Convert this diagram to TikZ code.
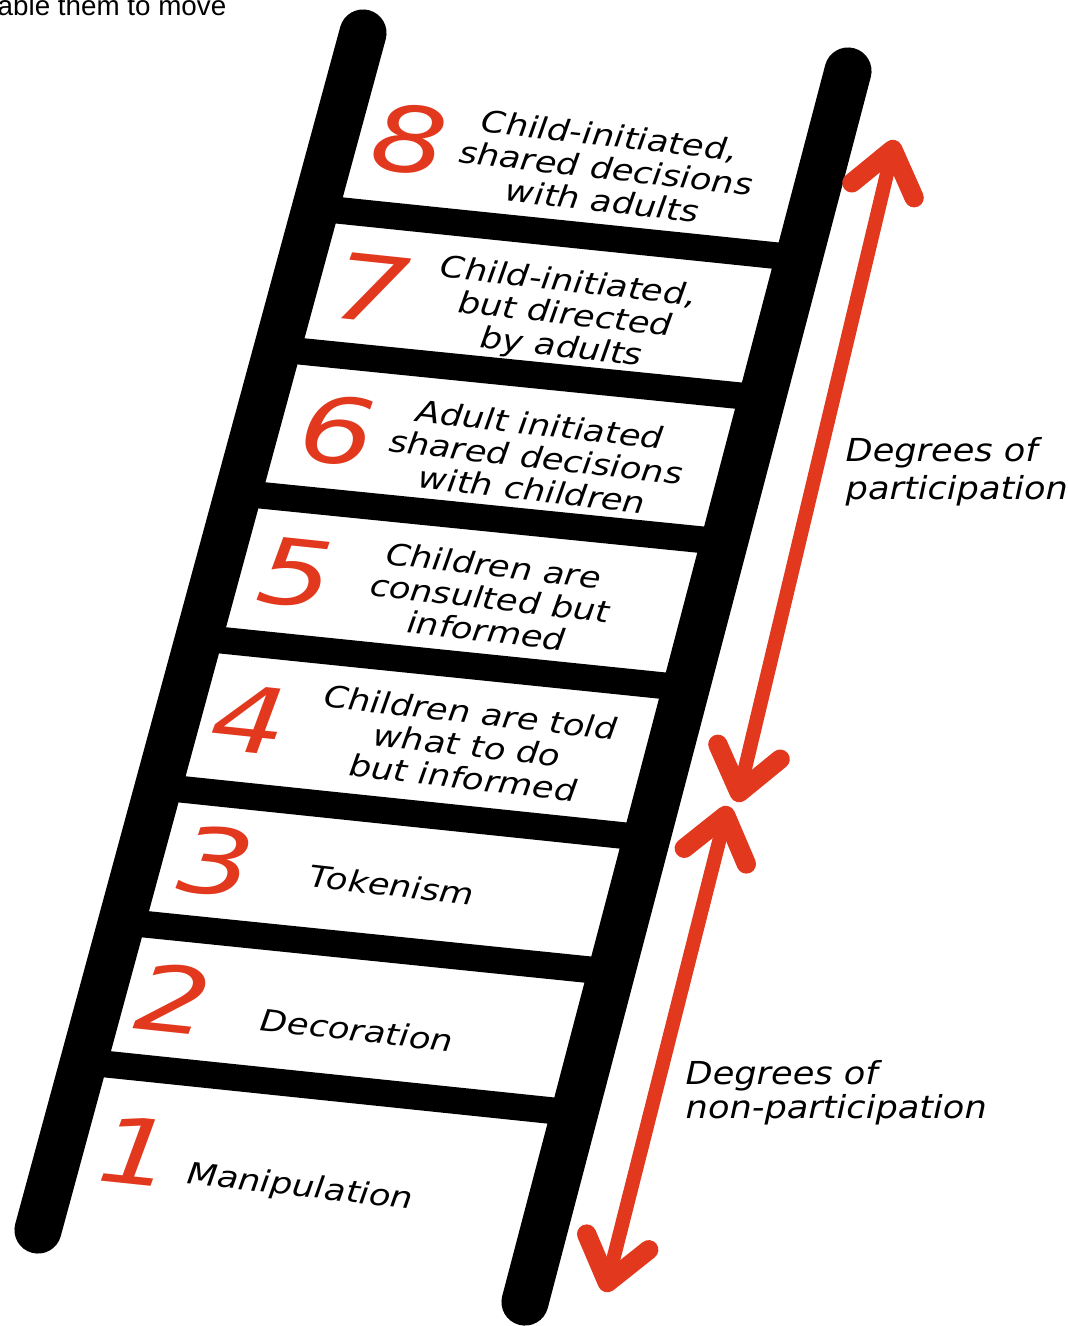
\documentclass[tikz,border=0pt]{standalone}
\usepackage{fontspec}
\setmainfont{DejaVu Sans}
\newfontfamily\arialfont{Liberation Sans}
\usetikzlibrary{arrows.meta}
\definecolor{ladderred}{RGB}{226,56,30}
\tikzset{
  rail/.style={line width=13.4pt, line cap=round, black},
  rung/.style={line width=7.6pt, black},
  digit/.style={font=\itshape\fontsize{26}{26}\selectfont, text=ladderred, inner sep=0pt, rotate=-6, xscale=1.3},
  label/.style={font=\itshape\fontsize{10}{11}\selectfont, align=center, inner sep=0pt, rotate=-6.5, yscale=0.85},
  side/.style={font=\itshape\fontsize{10}{10}\selectfont, align=left, inner sep=0pt, anchor=west, yscale=0.9},
  redarrow/.style={ladderred, line width=4pt, line cap=round,
    {Straight Barb[length=4.2mm, width=6.4mm, line width=5.5pt 0, round]}-{Straight Barb[length=4.2mm, width=6.4mm, line width=5.5pt 0, round]}}
}
\begin{document}
\begin{tikzpicture}[x=0.01cm, y=-0.01cm]
\useasboundingbox (0,0) rectangle (1068,1326);
% rails
\coordinate (LT) at (363,33);
\coordinate (LB) at (38,1230);
\coordinate (RT) at (848,71);
\coordinate (RB) at (525,1302);
\draw[rail] (LT) -- (LB);
\draw[rail] (RT) -- (RB);
% rungs
\draw[rung] (315.8,208) -- (798.9,258);
\draw[rung] (277.8,349) -- (762.2,398);
\draw[rung] (238.8,493) -- (724.4,542);
\draw[rung] (200,638) -- (686.1,688);
\draw[rung] (159.8,787) -- (646.7,838);
\draw[rung] (123.4,922) -- (611.6,972);
\draw[rung] (85.7,1062) -- (574.6,1113);
% digits
\node[digit] (d8) at (410,139) {8};
\node[digit] (d7) at (372,288) {7};
\node[digit] (d6) at (338,430) {6};
\node[digit] (d5) at (296,573) {5};
\node[digit] (d4) at (250,719) {4};
\node[digit] (d3) at (217,861) {3};
\node[digit] (d2) at (174,999) {2};
\node[digit] (d1) at (137,1151) {1};
% labels
\node[label] (l8) at (606,168) {Child-initiated,\\shared decisions\\with adults};
\node[label] (l7) at (565,316) {Child-initiated,\\but directed\\by adults};
\node[label] (l6) at (536,457) {Adult initiated\\shared decisions\\with children};
\node[label] (l5) at (490,598) {Children are\\consulted but\\informed};
\node[label] (l4) at (467,745) {Children are told\\what to do\\but informed};
\node[label] (l3) at (392,885) {Tokenism};
\node[label] (l2) at (357,1030) {Decoration};
\node[label] (l1) at (300,1188) {Manipulation};
% side labels
\node[side, font=\itshape\fontsize{10}{12}\selectfont] (p) at (845,472) {Degrees of\\participation};
\node[side, font=\itshape\fontsize{10}{9.5}\selectfont] (np) at (685,1093) {Degrees of\\non-participation};
% arrows
\coordinate (a1t) at (895,140);
\coordinate (a1b) at (737,802);
\coordinate (a2t) at (728,806);
\coordinate (a2b) at (605,1292);
\draw[redarrow] (a1b) -- (a1t);
\draw[redarrow] (a2t) -- (a2b);
% clipped text at top left
\node[font=\arialfont\fontsize{7.9}{10}\selectfont, anchor=base west, inner sep=0pt] (top) at (-3,15) {able them to move};
\end{tikzpicture}
\end{document}
